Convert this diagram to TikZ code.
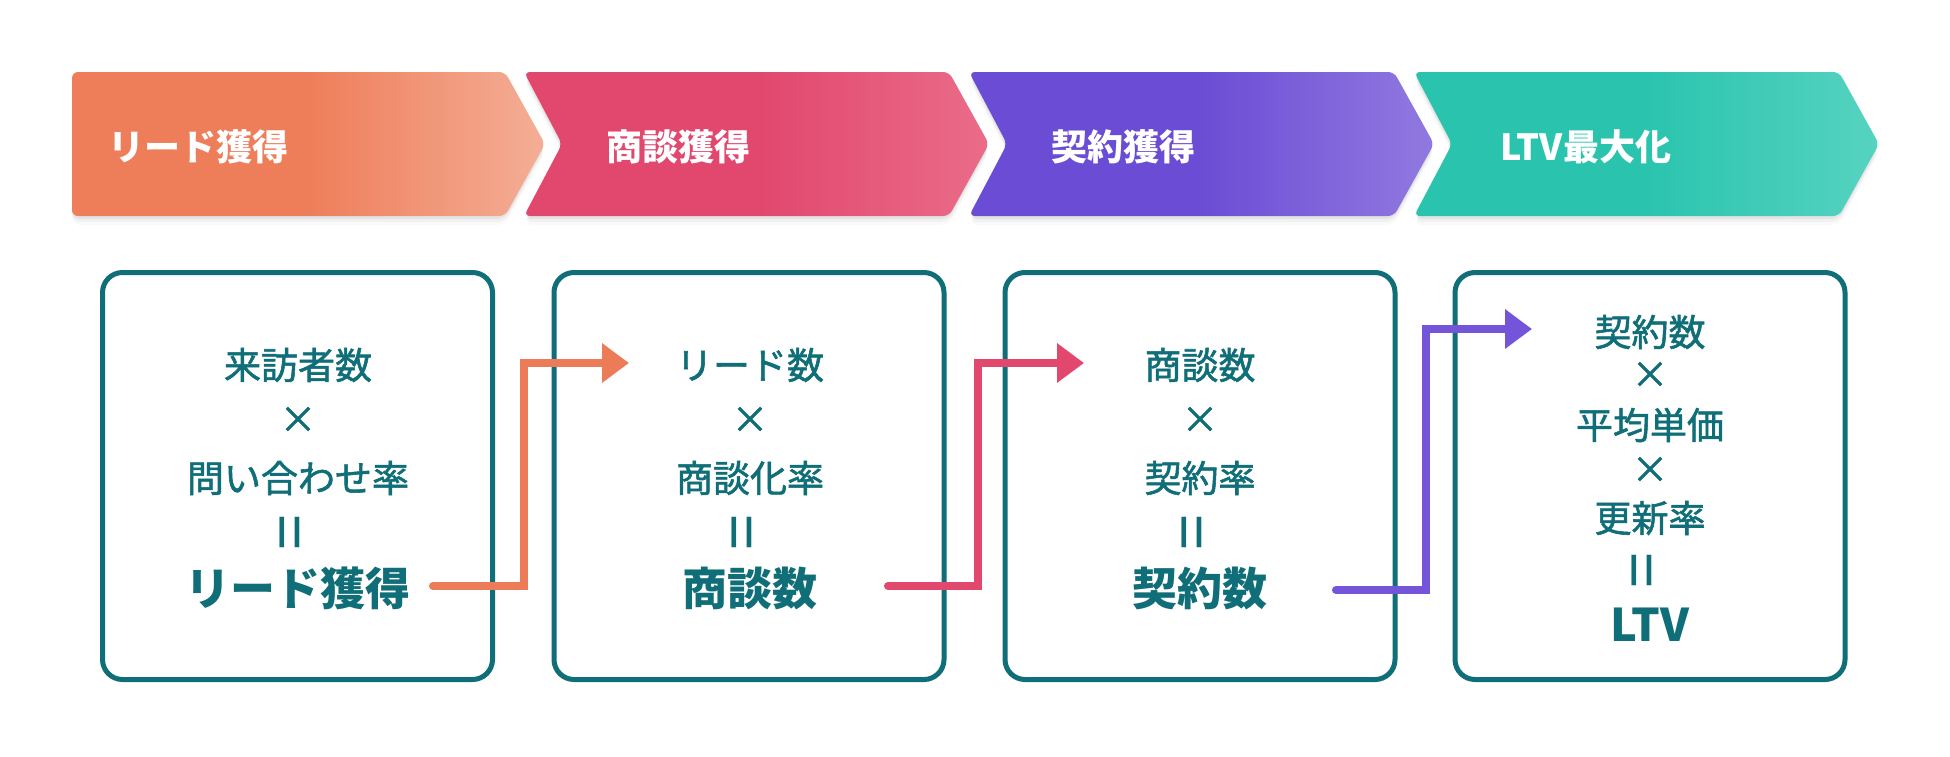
\documentclass[tikz,border=0pt]{standalone}
\usepackage{fontspec}
\usepackage{graphicx}
\newfontfamily\jp{Noto Sans CJK JP}
\newfontfamily\jpm[FakeBold=1.5]{Noto Sans CJK JP}
\usetikzlibrary{arrows.meta,calc}
\definecolor{tealdk}{HTML}{0F6E78}
\definecolor{orA}{HTML}{EE7E5A}
\definecolor{orB}{HTML}{F4AE96}
\definecolor{pkA}{HTML}{E2476E}
\definecolor{pkB}{HTML}{EA6C89}
\definecolor{puA}{HTML}{6B4DD5}
\definecolor{puB}{HTML}{9179E0}
\definecolor{tlA}{HTML}{2AC4AE}
\definecolor{tlB}{HTML}{56D3C1}
\definecolor{orL}{HTML}{EC7C58}
\definecolor{pkL}{HTML}{E2486E}
\definecolor{puL}{HTML}{7455D9}
\newcommand\chevpath[1]{(#1,72) -- (#1+425,72) -- (#1+465,144) -- (#1+425,216) -- (#1,216) -- (#1+38,144) -- cycle}
\newcommand\firstchev{(72,72) -- (505,72) -- (545,144) -- (505,216) -- (72,216) -- cycle}
\newcommand\veq{\scalebox{1}[1.6]{＝}}
\begin{document}
\begin{tikzpicture}[x=1pt,y=-1pt,
  chev/.style={rounded corners=6pt},
  shad/.style={rounded corners=8pt, fill=black},
  box/.style={draw=tealdk, line width=5pt, rounded corners=20pt, minimum width=390pt, minimum height=407pt, inner sep=0pt},
  reg/.style={text=tealdk, font=\jpm\fontsize{37}{42}\selectfont, inner sep=0pt},
  eqs/.style={text=tealdk, font=\jp\fontsize{42}{46}\selectfont, inner sep=0pt, rotate=90},
  big/.style={text=tealdk, font=\jp\bfseries\fontsize{45}{50}\selectfont, inner sep=0pt},
  lab/.style={text=white, font=\jp\bfseries\fontsize{36}{40}\selectfont, anchor=west, inner sep=0pt},
  flow/.style={line width=8pt, line cap=round, -{Triangle[length=27pt,width=38pt]}}
]
\useasboundingbox (0,0) rectangle (1950,756);
\fill[white] (0,0) rectangle (1950,756);

% shadows of the chevrons
\foreach \dy/\op in {3/0.05, 6/0.035, 9/0.02} {
  \begin{scope}[yshift=-\dy pt, opacity=\op]
    \fill[shad] \firstchev;
    \fill[shad] \chevpath{524};
    \fill[shad] \chevpath{969};
    \fill[shad] \chevpath{1414};
  \end{scope}
}

% chevrons
\shade[chev, left color=orA, right color=orB, middle color=orA] \firstchev;
\shade[chev, left color=pkA, right color=pkB, middle color=pkA] \chevpath{524};
\shade[chev, left color=puA, right color=puB, middle color=puA] \chevpath{969};
\shade[chev, left color=tlA, right color=tlB, middle color=tlA] \chevpath{1414};

\node[lab] (h1) at (108,147) {リード獲得};
\node[lab] (h2) at (606,147) {商談獲得};
\node[lab] (h3) at (1051,147) {契約獲得};
\node[lab] (h4) at (1500,147) {LTV最大化};

% boxes
\node[box] (b1) at (297.5,476) {};
\node[box] (b2) at (749,476) {};
\node[box] (b3) at (1200,476) {};
\node[box] (b4) at (1650,476) {};

% box 1
\node[reg] (t11) at (298,365) {来訪者数};
\node[reg] (t12) at (298,420) {×};
\node[reg] (t13) at (298,478) {問い合わせ率};
\node[eqs] (t14) at (298,532) {\veq};
\node[big] (t15) at (298,588) {リード獲得};
% box 2
\node[reg] (t21) at (750,365) {リード数};
\node[reg] (t22) at (750,420) {×};
\node[reg] (t23) at (750,478) {商談化率};
\node[eqs] (t24) at (750,532) {\veq};
\node[big] (t25) at (750,588) {商談数};
% box 3
\node[reg] (t31) at (1200,365) {商談数};
\node[reg] (t32) at (1200,420) {×};
\node[reg] (t33) at (1200,478) {契約率};
\node[eqs] (t34) at (1200,532) {\veq};
\node[big] (t35) at (1200,588) {契約数};
% box 4
\node[reg] (t41) at (1650,332) {契約数};
\node[reg] (t42) at (1650,375) {×};
\node[reg] (t43) at (1650,425) {平均単価};
\node[reg] (t44) at (1650,470) {×};
\node[reg] (t45) at (1650,518) {更新率};
\node[eqs] (t46) at (1650,570) {\veq};
\node[big] (t47) at (1650,625) {LTV};

% connectors
\coordinate (a1s) at (433,586);
\coordinate (a1e) at (629,363);
\coordinate (a2s) at (888,586);
\coordinate (a2e) at (1084,363);
\coordinate (a3s) at (1336,590);
\coordinate (a3e) at (1532,329);
\draw[flow, draw=orL] (a1s) -- (524,586) -- (524,363) -- (a1e);
\draw[flow, draw=pkL] (a2s) -- (978,586) -- (978,363) -- (a2e);
\draw[flow, draw=puL] (a3s) -- (1426,590) -- (1426,329) -- (a3e);
\end{tikzpicture}
\end{document}
